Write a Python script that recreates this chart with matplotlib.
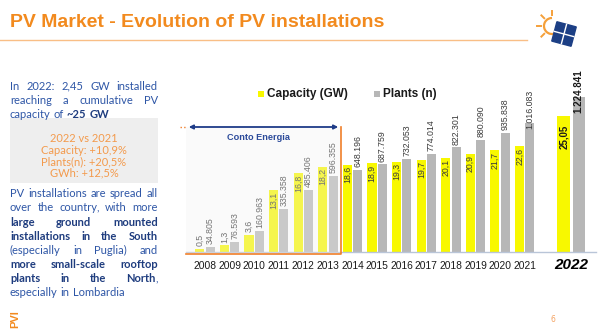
import matplotlib
matplotlib.use("Agg")
import matplotlib.pyplot as plt
from matplotlib.patches import Rectangle, FancyArrowPatch, Polygon, Arc
from matplotlib.lines import Line2D
import numpy as np

# data
years = [2008, 2009, 2010, 2011, 2012, 2013, 2014, 2015, 2016, 2017, 2018, 2019, 2020, 2021]
capacity_gw = [0.5, 1.3, 3.6, 13.1, 16.8, 18.2, 18.6, 18.9, 19.3, 19.7, 20.1, 20.9, 21.7, 22.6]
plants_n = [34805, 76593, 160963, 335358, 485406, 596355, 648196, 687759,
            732053, 774014, 822301, 880090, 935838, 1016083]
year_last = 2022
capacity_last = 25.05
plants_last = 1224841

legend_labels = ["Capacity (GW)", "Plants (n)"]

intro_lines = ["In 2022: 2,45 GW installed", "reaching a cumulative PV", "capacity of **~25 GW**"]
box_lines = ["2022 vs 2021", "Capacity: +10,9%", "Plants(n): +20,5%", "GWh: +12,5%"]
spread_lines = [
    "PV installations are spread all",
    "over the country, with more",
    "**large ground mounted**",
    "**installations in the South**",
    "(especially in Puglia) and",
    "**more small-scale rooftop**",
    "**plants in the North**,",
    "especially in Lombardia",
]

# colours
ORANGE = "#F28A1E"
NAVY = "#1F3C88"
YELLOW = "#F8F800"
GREY = "#B7B7B7"
TXT_BLUE = "#2E56A6"
TXT_BLUE_BOLD = "#1E3C7E"
W, H = 600, 334


def fx(x):
    return x / W


def fy(y):
    return 1 - y / H


def cap_fmt(v, digits=1):
    return f"{v:.{digits}f}".replace(".", ",")


def plants_fmt(v):
    return f"{v:,}".replace(",", ".")


fig = plt.figure(figsize=(6, 3.34), dpi=100)
fig.patch.set_facecolor("white")

# ---- title
fig.text(fx(10), fy(22.5), "PV Market - Evolution of PV installations", fontsize=14,
         fontweight="bold", color=ORANGE, family="Liberation Sans", ha="left", va="center")
fig.add_artist(Line2D([0, fx(527)], [fy(40), fy(40)], color="#F9BE86", lw=1))

# logo: sun arc with rays plus a tilted panel
sun_c = (fx(552), fy(26))
fig.add_artist(Arc(sun_c, 16 / W, 16 / H, theta1=90, theta2=280, color="#F5A03A", lw=1.6,
                   transform=fig.transFigure))
for ang in [90, 135, 180, 225]:
    a = np.deg2rad(ang)
    x0, y0 = 552 + 11 * np.cos(a), 26 - 11 * np.sin(a)
    x1, y1 = 552 + 15 * np.cos(a), 26 - 15 * np.sin(a)
    fig.add_artist(Line2D([fx(x0), fx(x1)], [fy(y0), fy(y1)], color="#F5A03A", lw=1.4))
theta = np.deg2rad(15)
pc = np.array([564, 34])
half = 10
corners = []
for dx, dy in [(-1, -1), (1, -1), (1, 1), (-1, 1)]:
    v = np.array([dx * half, dy * half])
    r = np.array([v[0] * np.cos(theta) - v[1] * np.sin(theta),
                  v[0] * np.sin(theta) + v[1] * np.cos(theta)])
    corners.append(pc + r)
fig.add_artist(Polygon([(fx(c[0]), fy(c[1])) for c in corners], closed=True,
                       facecolor="#1C3F85", edgecolor="#1C3F85", transform=fig.transFigure))
m_top = (corners[0] + corners[1]) / 2
m_bot = (corners[2] + corners[3]) / 2
m_left = (corners[0] + corners[3]) / 2
m_right = (corners[1] + corners[2]) / 2
for p, q in [(m_top, m_bot), (m_left, m_right)]:
    fig.add_artist(Line2D([fx(p[0]), fx(q[0])], [fy(p[1]), fy(q[1])], color="white", lw=1))

# ---- left text block, justified word by word
renderer = fig.canvas.get_renderer()
TXT_FONT = "Lato"
TXT_SIZE = 8.0


def seg_width(s, bold):
    t = fig.text(0, 0, s, fontsize=TXT_SIZE, family=TXT_FONT,
                 fontweight="bold" if bold else "normal")
    w = t.get_window_extent(renderer).width
    t.remove()
    return w


SPACE_W = seg_width("a a", False) - seg_width("aa", False)


def parse_words(line):
    words = []
    bold = False
    for word in line.split(" "):
        segs = []
        for i, part in enumerate(word.split("**")):
            if i > 0:
                bold = not bold
            if part:
                segs.append((part, bold))
        words.append(segs)
    return words


def draw_line(line, y, justify, x0=10, x1=157.7):
    words = parse_words(line)
    widths = [sum(seg_width(s, b) for s, b in segs) for segs in words]
    if justify and len(words) > 1:
        gap = max((x1 - x0 - sum(widths)) / (len(words) - 1), SPACE_W * 0.6)
    else:
        gap = SPACE_W
    x = x0
    for segs, wd in zip(words, widths):
        xs = x
        for s, b in segs:
            fig.text(fx(xs), fy(y + 3), s, fontsize=TXT_SIZE, family=TXT_FONT,
                     fontweight="bold" if b else "normal",
                     color=TXT_BLUE_BOLD if b else TXT_BLUE, ha="left", va="baseline")
            xs += seg_width(s, b)
        x += wd + gap


for i, (line, y) in enumerate(zip(intro_lines, [86.7, 101.2, 115.5])):
    draw_line(line, y, justify=i < len(intro_lines) - 1)

fig.add_artist(Rectangle((fx(10), fy(183.3)), (157.7 - 10) / W, (183.3 - 118.3) / H,
                         facecolor="#EEEEEE", edgecolor="none", transform=fig.transFigure))
for line, y in zip(box_lines, [138.3, 150, 161.7, 173.3]):
    fig.text(fx(84), fy(y), line, fontsize=TXT_SIZE, family=TXT_FONT, color="#F39A4C",
             ha="center", va="center")

spread_y = [194, 208, 222.5, 236.5, 250.7, 264.8, 279, 293]
for i, (line, y) in enumerate(zip(spread_lines, spread_y)):
    draw_line(line, y, justify=i < len(spread_lines) - 1)

fig.text(fx(15), fy(319), "PVI", fontsize=8, fontweight="bold", color=ORANGE,
         family="Liberation Sans", rotation=90, ha="center", va="center")
fig.text(fx(553), fy(319), "6", fontsize=5.5, color="#F4A261", ha="center", va="center")

# ---- main bar chart (2008-2021)
BASE, TOP = 251.5, 80
ax = fig.add_axes([fx(186), fy(BASE), (537 - 186) / W, (BASE - TOP) / H])
ax2 = ax.twinx()
x = np.arange(len(years))
ax.bar(x - 0.21, capacity_gw, width=0.37, color=YELLOW, zorder=2)
ax2.bar(x + 0.21, plants_n, width=0.37, color=GREY, zorder=2)
ax.set_xlim(-0.772, 13.5)
ax.set_ylim(0, (BASE - TOP) / 4.66)
ax2.set_ylim(0, (BASE - TOP) / 0.1265 * 1000)

lab_font = dict(family="Liberation Sans", fontsize=6.3, color="#3A3A3A", rotation=90)
for xi, v in zip(x, capacity_gw):
    if v < 5:
        ax.annotate(cap_fmt(v), (xi - 0.21, v), xytext=(0, 2), textcoords="offset points",
                    ha="center", va="bottom", **lab_font)
    else:
        ax.annotate(cap_fmt(v), (xi - 0.21, v), xytext=(0, -1), textcoords="offset points",
                    ha="center", va="top", **lab_font)
for xi, v in zip(x, plants_n):
    dy = -4 if v > 1000000 else 2
    ax2.annotate(plants_fmt(v), (xi + 0.21, v), xytext=(0, dy), textcoords="offset points",
                 ha="center", va="bottom", **lab_font)

ax.set_xticks(x, [str(y) for y in years])
ax.tick_params(axis="x", length=0, pad=7, labelsize=7.4, labelcolor="#1A1A1A")
for lbl in ax.get_xticklabels():
    lbl.set_family("Liberation Sans")
for a in (ax, ax2):
    a.set_yticks([])
    for s in a.spines.values():
        s.set_visible(False)
    a.patch.set_visible(False)

# ---- 2022 on its own panel
ax_l = fig.add_axes([fx(545), fy(BASE), (597 - 545) / W, (BASE - TOP) / H])
ax_l2 = ax_l.twinx()
ax_l.bar([-0.28], [capacity_last], width=0.48, color=YELLOW, zorder=2)
ax_l2.bar([0.3], [plants_last], width=0.48, color=GREY, zorder=2)
ax_l.set_xlim(-1, 1)
ax_l.set_ylim(0, (BASE - TOP) / 5.39)
ax_l2.set_ylim(0, (BASE - TOP) / 0.1259 * 1000)
bold_lab = dict(family="Liberation Sans", fontsize=7, fontweight="bold", color="#1A1A1A",
                rotation=90)
ax_l.annotate(cap_fmt(capacity_last, 2), (-0.28, capacity_last), xytext=(0, -6),
              textcoords="offset points", ha="center", va="top", **bold_lab)
ax_l2.annotate(plants_fmt(plants_last), (0.3, plants_last), xytext=(0, -11),
               textcoords="offset points", ha="center", va="bottom", **bold_lab)
ax_l.set_xticks([0], [str(year_last)])
ax_l.tick_params(axis="x", length=0, pad=5, labelsize=11)
for lbl in ax_l.get_xticklabels():
    lbl.set_family("Liberation Sans")
    lbl.set_fontweight("bold")
    lbl.set_fontstyle("italic")
for a in (ax_l, ax_l2):
    a.set_yticks([])
    for s in a.spines.values():
        s.set_visible(False)
    a.patch.set_visible(False)

# baseline across both panels
fig.add_artist(Line2D([fx(186), fx(596)], [fy(252.2), fy(252.2)], color="#B9C5D8", lw=1))

# legend
fig.add_artist(Rectangle((fx(258), fy(97)), 6 / W, 6 / H, facecolor=YELLOW,
                         edgecolor="none", transform=fig.transFigure))
fig.text(fx(267), fy(94), legend_labels[0], fontsize=8.5, fontweight="bold",
         family="Liberation Sans", color="#1A1A1A", ha="left", va="center")
fig.add_artist(Rectangle((fx(374), fy(97)), 6 / W, 6 / H, facecolor=GREY,
                         edgecolor="none", transform=fig.transFigure))
fig.text(fx(383), fy(94), legend_labels[1], fontsize=8.5, fontweight="bold",
         family="Liberation Sans", color="#1A1A1A", ha="left", va="center")

# Conto Energia box: light veil over the first six years, orange frame, arrow on top
fig.add_artist(Rectangle((fx(186), fy(254)), (341 - 186) / W, (254 - 127) / H,
                         facecolor="#F0F0F0", alpha=0.32, edgecolor="none",
                         transform=fig.transFigure, zorder=3))
fig.add_artist(Line2D([fx(341), fx(341), fx(186)], [fy(127), fy(254), fy(254)],
                      color="#F07F2A", lw=1.2, zorder=4))
fig.add_artist(Line2D([fx(180), fx(187)], [fy(127), fy(127)], color="#F07F2A", lw=1,
                      ls=":", zorder=4))
fig.add_artist(FancyArrowPatch((fx(186), fy(127)), (fx(341), fy(127)), arrowstyle="<|-|>",
                               mutation_scale=6, color=NAVY, lw=1.3,
                               transform=fig.transFigure, zorder=5))
fig.text(fx(258), fy(137.5), "Conto Energia", fontsize=6.6, fontweight="bold", color="#2B4A9A",
         family="Liberation Sans", ha="center", va="center", zorder=5)

fig.savefig("out.png", dpi=100)
